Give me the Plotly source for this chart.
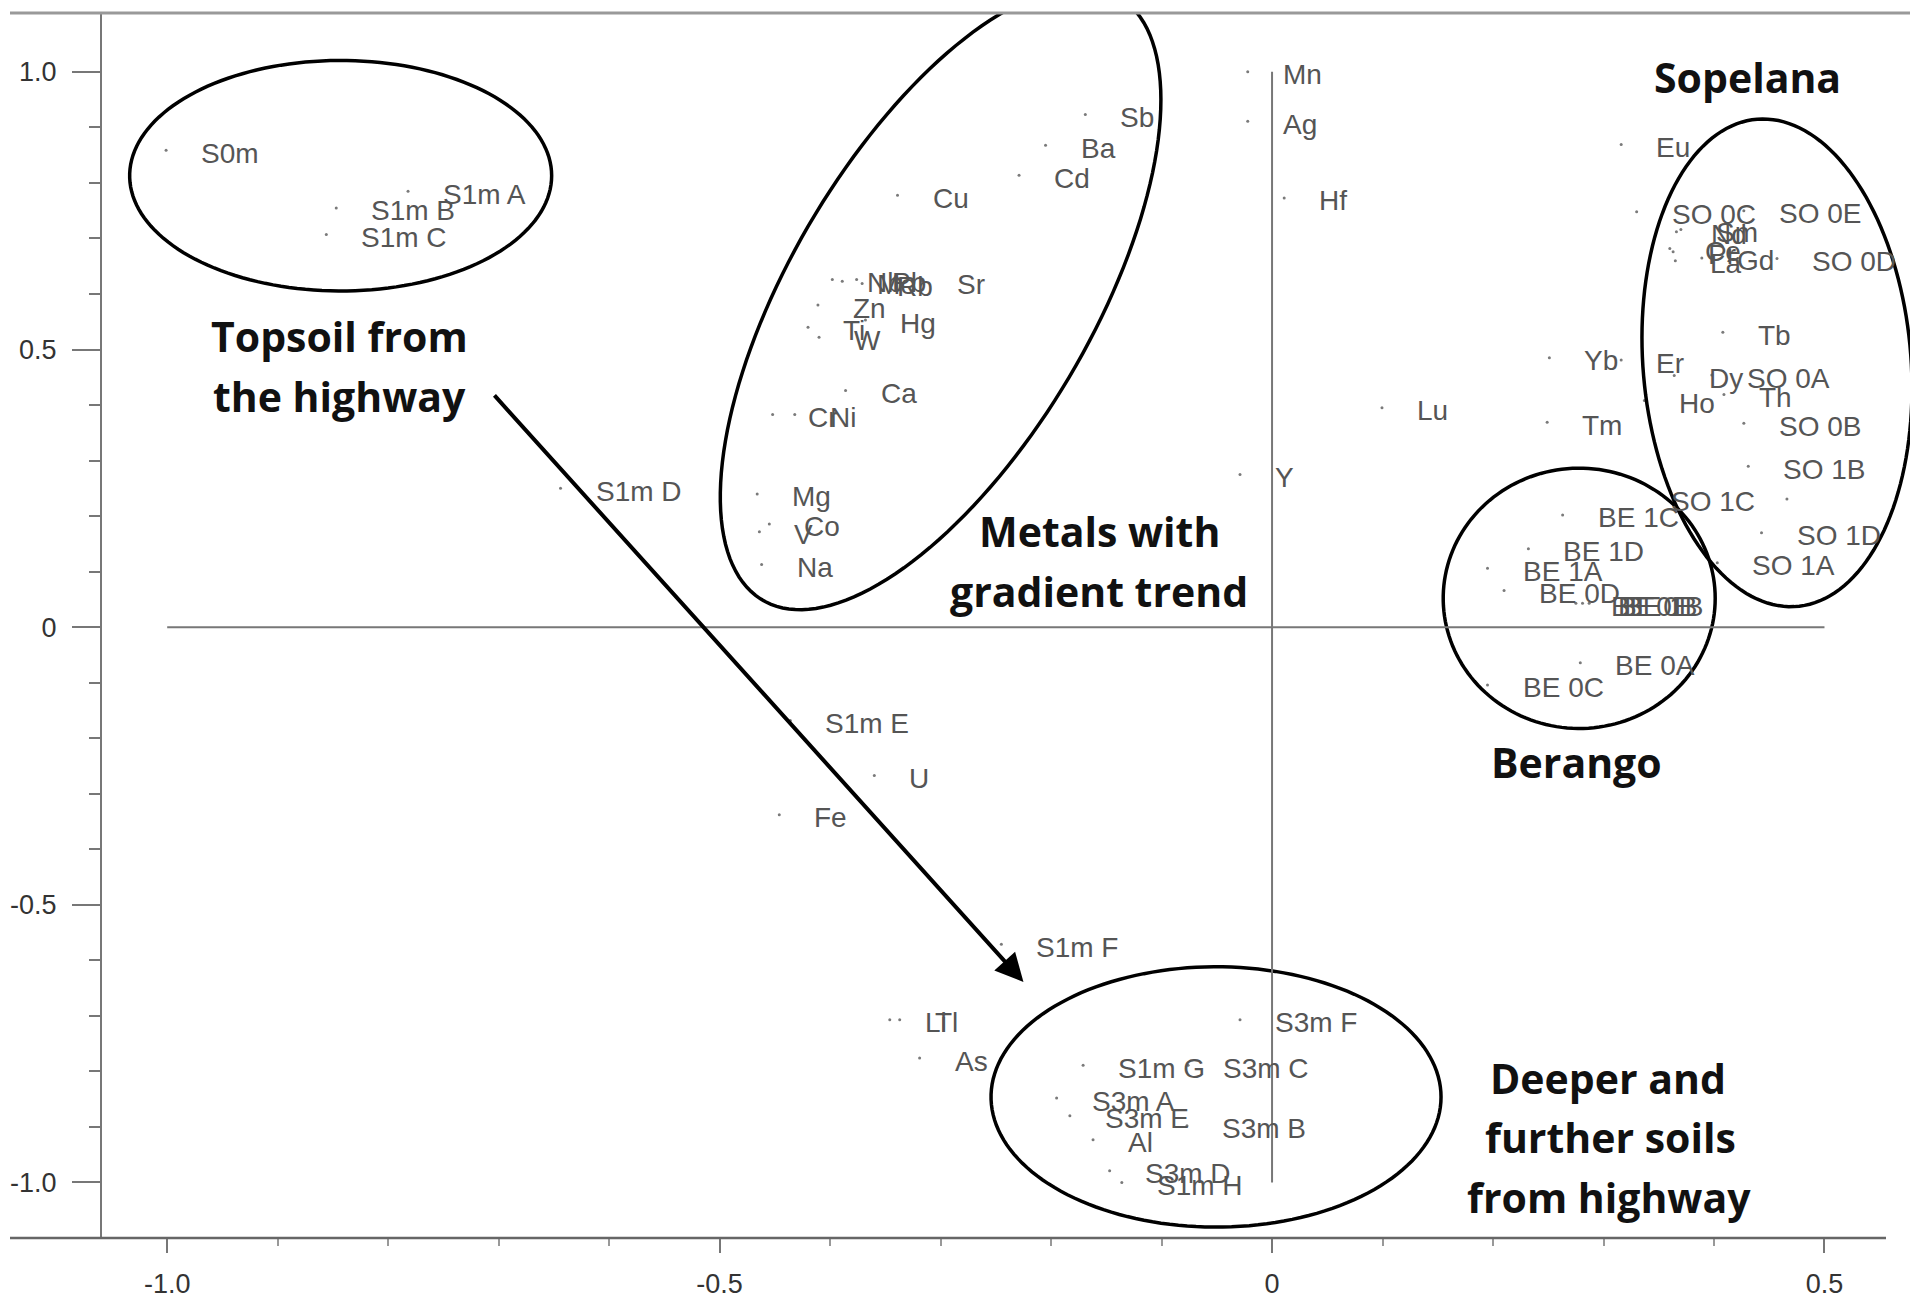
import numpy as np
import plotly.graph_objects as go

# ---------------- data (PCA biplot, factor 1 vs factor 2) ----------------
sample_names = ["S0m", "S1m A", "S1m B", "S1m C", "S1m D", "S1m E", "S1m F", "S1m G", "S1m H",
                "S3m A", "S3m B", "S3m C", "S3m D", "S3m E", "S3m F",
                "SO 0A", "SO 0B", "SO 0C", "SO 0D", "SO 0E", "SO 1A", "SO 1B", "SO 1C", "SO 1D",
                "BE 0A", "BE 0B", "BE 0C", "BE 0D", "BE 0E", "BE 1A", "BE 1B", "BE 1C", "BE 1D"]
sample_f1 = [-1.001, -0.782, -0.847, -0.856, -0.644, -0.436, -0.245, -0.171, -0.136,
             -0.195, -0.077, -0.076, -0.147, -0.183, -0.029,
             0.398, 0.427, 0.330, 0.457, 0.427, 0.403, 0.431, 0.466, 0.443,
             0.279, 0.281, 0.195, 0.210, 0.275, 0.195, 0.287, 0.263, 0.232]
sample_f2 = [0.859, 0.785, 0.755, 0.707, 0.250, -0.168, -0.571, -0.789, -1.000,
             -0.848, -0.898, -0.789, -0.979, -0.880, -0.707,
             0.454, 0.367, 0.748, 0.664, 0.750, 0.116, 0.290, 0.231, 0.170,
             -0.064, 0.043, -0.104, 0.066, 0.043, 0.106, 0.043, 0.202, 0.141]

element_names = ["Mn", "Ag", "Hf", "Sb", "Ba", "Cd", "Cu", "Sr", "Nb", "Mo", "Pb", "Rb",
                 "Zn", "Ti", "W", "Hg", "Ca", "Cr", "Ni", "Mg", "Co", "V", "Na", "Y",
                 "U", "Fe", "Li", "Tl", "As", "Al", "Lu", "Eu", "Yb", "Er", "Tm", "Tb",
                 "Dy", "Ho", "Th", "Nd", "Sm", "Ce", "Pr", "La", "Gd"]
element_f1 = [-0.022, -0.022, 0.011, -0.169, -0.205, -0.229, -0.339, -0.317, -0.398, -0.389, -0.376, -0.371,
              -0.411, -0.420, -0.410, -0.368, -0.386, -0.452, -0.432, -0.466, -0.455, -0.464, -0.462, -0.029,
              -0.360, -0.446, -0.346, -0.337, -0.319, -0.162, 0.0995, 0.316, 0.251, 0.316, 0.249, 0.408,
              0.364, 0.337, 0.409, 0.366, 0.370, 0.360, 0.363, 0.365, 0.389]
element_f2 = [1.000, 0.911, 0.773, 0.923, 0.868, 0.814, 0.778, 0.623, 0.626, 0.623, 0.626, 0.619,
              0.580, 0.540, 0.522, 0.553, 0.426, 0.383, 0.383, 0.240, 0.186, 0.172, 0.113, 0.275,
              -0.267, -0.338, -0.707, -0.707, -0.776, -0.923, 0.395, 0.869, 0.485, 0.481, 0.369, 0.531,
              0.453, 0.408, 0.419, 0.712, 0.716, 0.682, 0.676, 0.660, 0.665]

# labels drawn on the left side of their point
left_labels = ["SO 1C"]

x_tick_vals = [-1.0, -0.5, 0.0, 0.5]
x_tick_text = ["-1.0", "-0.5", "0", "0.5"]
y_tick_vals = [-1.0, -0.5, 0.0, 0.5, 1.0]
y_tick_text = ["-1.0", "-0.5", "0", "0.5", "1.0"]

# ---------------- layout geometry ----------------
W, H = 1910, 1299
ML, MR, MT, MB = 102, 0, 13, 53
XR = [-1.059, 0.5774]
YR = [-1.100, 1.106]
PX_X = (W - ML - MR) / (XR[1] - XR[0])
PX_Y = (H - MT - MB) / (YR[1] - YR[0])

LABEL_FONT = dict(family="Liberation Sans Narrow, Arial Narrow, Liberation Sans, sans-serif",
                  size=28, color="#555555")
BOLD_FONT = dict(family="Open Sans, Noto Sans, sans-serif", size=41, color="#111111", weight="bold")
AX = "#777777"

fig = go.Figure()
all_x = sample_f1 + element_f1
all_y = sample_f2 + element_f2
all_n = sample_names + element_names
fig.add_trace(go.Scatter(x=all_x, y=all_y, mode="markers",
                         marker=dict(size=3, color="#7a7a7a"), hoverinfo="text", text=all_n,
                         showlegend=False))

annotations = []
for xv, yv, nm in zip(all_x, all_y, all_n):
    left = nm in left_labels
    annotations.append(dict(x=xv, y=yv, text=nm, showarrow=False,
                            xanchor="right" if left else "left", yanchor="middle",
                            xshift=-30 if left else 33, yshift=-3, font=LABEL_FONT))

# group captions
captions = [("Topsoil from", -0.844, 0.524), ("the highway", -0.844, 0.417),
            ("Metals with", -0.156, 0.174), ("gradient trend", -0.157, 0.066),
            ("Sopelana", 0.430, 0.991), ("Berango", 0.276, -0.243),
            ("Deeper and", 0.304, -0.812), ("further soils", 0.306, -0.918),
            ("from highway", 0.305, -1.027)]
for txt, xv, yv in captions:
    annotations.append(dict(x=xv, y=yv, text=txt, showarrow=False, xanchor="center",
                            yanchor="middle", font=BOLD_FONT))

# arrow from topsoil to deeper soils
annotations.append(dict(x=-0.225, y=-0.639, ax=-0.705, ay=0.420, axref="x", ayref="y",
                        xref="x", yref="y", text="", showarrow=True, arrowhead=2,
                        arrowsize=1.4, arrowwidth=4, arrowcolor="black"))


def ellipse_path(cx, cy, a_px, b_px, ang_deg, n=160):
    t = np.linspace(0, 2 * np.pi, n)
    th = np.radians(ang_deg)
    dx = a_px * np.cos(t) * np.cos(th) - b_px * np.sin(t) * np.sin(th)
    dy = a_px * np.cos(t) * np.sin(th) + b_px * np.sin(t) * np.cos(th)
    xs = cx + dx / PX_X
    ys = cy + dy / PX_Y
    return "M " + " L ".join(f"{a:.5f},{b:.5f}" for a, b in zip(xs, ys)) + " Z"


ellipses = [(-0.843, 0.813, 211, 116, 0), (-0.300, 0.592, 352, 151, 59.7),
            (0.457, 0.476, 246, 134, 94.6), (0.278, 0.052, 136, 131, 0),
            (-0.0507, -0.846, 225, 131, 0)]
shapes = []
for cx, cy, a, b, ang in ellipses:
    shapes.append(dict(type="path", path=ellipse_path(cx, cy, a, b, ang), xref="x", yref="y",
                       line=dict(color="black", width=3.5)))

# reference lines through origin
shapes.append(dict(type="line", xref="x", yref="y", x0=-1.0, x1=0.5, y0=0, y1=0,
                   line=dict(color=AX, width=2)))
shapes.append(dict(type="line", xref="x", yref="y", x0=0, x1=0, y0=-1.0, y1=1.0,
                   line=dict(color=AX, width=2)))
# frame lines
pw = W - ML - MR
shapes.append(dict(type="line", xref="paper", yref="paper", x0=(10 - ML) / pw, x1=1.0, y0=1, y1=1,
                   line=dict(color="#999999", width=3)))
shapes.append(dict(type="line", xref="paper", yref="paper", x0=(10 - ML) / pw, x1=(1886 - ML) / pw,
                   y0=0, y1=0, line=dict(color="#666666", width=2.5)))

minor_x = [v / 10 for v in range(-10, 6)]
minor_y = [v / 10 for v in range(-10, 11)]

fig.update_layout(
    width=W, height=H, margin=dict(l=ML, r=MR, t=MT, b=MB),
    plot_bgcolor="white", paper_bgcolor="white",
    annotations=annotations, shapes=shapes,
    xaxis=dict(range=XR, showgrid=False, zeroline=False, showline=False,
               tickvals=x_tick_vals, ticktext=x_tick_text, ticks="outside", ticklen=14,
               tickwidth=2, tickcolor=AX, ticklabelstandoff=8,
               tickfont=dict(family=LABEL_FONT["family"], size=27, color="#333333"),
               minor=dict(tickvals=minor_x, ticks="outside", ticklen=7, tickwidth=1.5,
                          tickcolor="#999999", showgrid=False)),
    yaxis=dict(range=YR, showgrid=False, zeroline=False, showline=True, linecolor=AX,
               linewidth=2, tickvals=y_tick_vals, ticktext=y_tick_text, ticks="outside",
               ticklen=28, tickwidth=2, tickcolor=AX, ticklabelstandoff=10,
               tickfont=dict(family=LABEL_FONT["family"], size=27, color="#333333"),
               minor=dict(tickvals=minor_y, ticks="outside", ticklen=11, tickwidth=2,
                          tickcolor=AX, showgrid=False)),
)

fig.write_html("out.html", config={"displayModeBar": False},
               post_script="document.body.style.margin='0';")
